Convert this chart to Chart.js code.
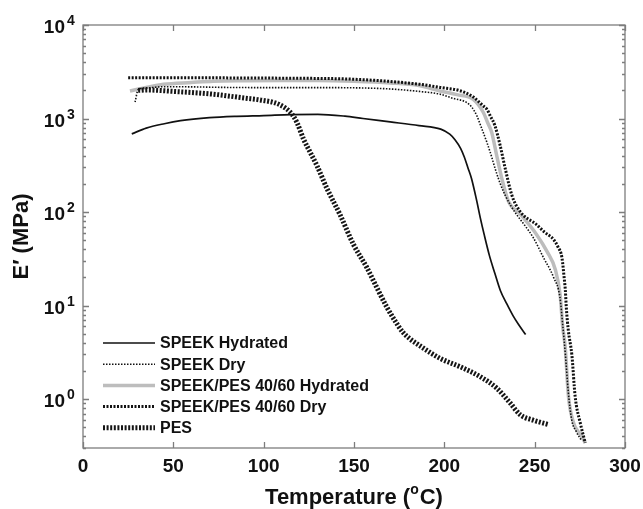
<!DOCTYPE html>
<html>
<head>
<meta charset="utf-8">
<title>Storage modulus vs temperature</title>
<script src="https://cdn.jsdelivr.net/npm/chart.js@4.4.1/dist/chart.umd.min.js"></script>
<style>
  html,body{margin:0;padding:0;background:#fff;}
  #wrap{width:643px;height:509px;}
</style>
</head>
<body>
<div id="wrap"><canvas id="dma" width="643" height="509"></canvas></div>
<script>
/* ---------- DATA (temperature °C / E' MPa) ---------- */
const speekHydT = [27, 35, 45, 54, 70, 85, 100, 115, 130, 145, 155, 170, 186, 198, 203, 206, 209, 211, 213, 215, 218, 220, 222, 225, 228, 231, 234.6, 238, 241, 245];
const speekHydE = [685, 790, 880, 948, 1020, 1055, 1075, 1100, 1110, 1060, 1000, 920, 840, 770, 680, 590, 480, 390, 300, 230, 130, 85, 58, 34, 22, 14.5, 10.4, 7.8, 6.3, 4.9];

const speekDryT = [28.8, 30.6, 36, 44.5, 60, 80, 109, 130, 150, 170, 186, 197.7, 205, 212.5, 215.5, 218, 220.5, 223.5, 226, 228.1, 231, 233.7, 237, 240.1, 245, 249.3, 254.9, 260.5, 264, 265.6, 267, 268.6, 270.5, 273, 276];
const speekDryE = [1500, 2050, 2130, 2190, 2180, 2150, 2140, 2140, 2130, 2070, 1950, 1820, 1640, 1480, 1300, 1070, 800, 560, 400, 292, 200, 151, 115, 93.5, 70, 53, 32.5, 20, 12.2, 6, 3, 1.2, 0.6, 0.45, 0.36];

const blendHydT = [26, 35, 44.5, 60, 72, 90, 110, 130, 150, 170, 186, 197.7, 207, 216, 221.6, 224, 226.2, 229, 231.8, 235.5, 242, 251.2, 256.8, 261.5, 264.1, 265.5, 266.9, 268.7, 271.5, 274, 276, 278];
const blendHydE = [1970, 2150, 2320, 2430, 2510, 2540, 2550, 2550, 2500, 2400, 2250, 1970, 1800, 1600, 1160, 900, 714, 400, 229, 130, 95, 57, 38, 24, 13, 6, 3.6, 1.07, 0.56, 0.45, 0.4, 0.34];

const blendDryT = [25, 50, 80, 110, 150, 186.6, 197.7, 208.7, 216, 221.5, 223.5, 225.4, 228, 230.9, 233.7, 237.4, 242, 251.2, 255, 260.5, 263, 265.1, 266.3, 267, 267.5, 268.6, 270.6, 272.4, 275.2, 278];
const blendDryE = [2735, 2735, 2720, 2700, 2630, 2320, 2150, 1980, 1700, 1365, 1260, 1070, 840, 515, 292, 151, 101, 73, 62, 50.7, 42, 32.5, 20, 14.4, 9.6, 5.5, 2.95, 1.07, 0.56, 0.34];

const pesT = [30.5, 35, 50, 72, 90, 98, 109, 115.6, 118.5, 122, 125.7, 129.4, 135, 142.3, 149.7, 157.1, 162.6, 168.2, 173.7, 177, 181, 186.6, 197.7, 208.7, 219.8, 229, 236.4, 242, 249.3, 257.6];
const pesE = [2000, 2020, 1950, 1820, 1650, 1580, 1400, 1117, 900, 607, 437, 316, 179, 93.5, 45, 25.5, 15.6, 9.6, 6.4, 5.2, 4.4, 3.7, 2.72, 2.22, 1.74, 1.31, 0.91, 0.68, 0.594, 0.535];

const seriesNames = ['SPEEK Hydrated', 'SPEEK Dry', 'SPEEK/PES 40/60 Hydrated', 'SPEEK/PES 40/60 Dry', 'PES'];
const xTicks = [0, 50, 100, 150, 200, 250, 300];
const yDecades = [0, 1, 2, 3, 4];

/* ---------- STYLE ---------- */
const FONT = '"Liberation Sans", Arial, Helvetica, sans-serif';
const AXIS = '#7d7d7d';
const INK = '#111';

const pts = (xs, ys) => xs.map((x, i) => ({x, y: ys[i]}));

// order: lower draws on top, so the grey blend curve stays underneath
const line = (label, xs, ys, color, width, dash, order) => ({
  label, data: pts(xs, ys), borderColor: color, borderWidth: width, borderDash: dash,
  order, pointRadius: 0, fill: false, cubicInterpolationMode: 'monotone'
});

const datasets = [
  line(seriesNames[0], speekHydT, speekHydE, '#111', 1.7, [], 1),
  line(seriesNames[1], speekDryT, speekDryE, '#111', 1.6, [1.5, 1.5], 2),
  line(seriesNames[2], blendHydT, blendHydE, '#bdbdbd', 3.5, [], 5),
  line(seriesNames[3], blendDryT, blendDryE, '#111', 3, [2, 1.5], 3),
  line(seriesNames[4], pesT, pesE, '#151515', 5, [2, 1.6], 4)
];

/* ---------- AXES, FRAME, LEGEND ---------- */
const decor = {
  id: 'decor',
  afterDatasetsDraw(chart) {
    const {ctx, chartArea: a, scales: {x, y}} = chart;
    ctx.save();

    // frame + inward ticks on all four sides
    ctx.strokeStyle = AXIS; ctx.lineWidth = 1.3;
    ctx.strokeRect(a.left, a.top, a.right - a.left, a.bottom - a.top);
    ctx.beginPath();
    xTicks.forEach(v => {
      const px = Math.round(x.getPixelForValue(v)) + 0.5;
      ctx.moveTo(px, a.bottom); ctx.lineTo(px, a.bottom - 6);
      ctx.moveTo(px, a.top); ctx.lineTo(px, a.top + 6);
    });
    for (let d = -1; d <= 4; d++) for (let m = 1; m < 10; m++) {
      const v = m * Math.pow(10, d);
      if (v < y.min || v > y.max) continue;
      const py = Math.round(y.getPixelForValue(v)) + 0.5, len = m === 1 ? 6 : 3;
      ctx.moveTo(a.left, py); ctx.lineTo(a.left + len, py);
      ctx.moveTo(a.right, py); ctx.lineTo(a.right - len, py);
    }
    ctx.stroke();

    // tick labels
    ctx.fillStyle = INK;
    ctx.font = `bold 19px ${FONT}`;
    ctx.textAlign = 'center'; ctx.textBaseline = 'alphabetic';
    xTicks.forEach(v => ctx.fillText(String(v), x.getPixelForValue(v), a.bottom + 24));

    yDecades.forEach(d => {
      const py = y.getPixelForValue(Math.pow(10, d));
      ctx.font = `bold 19px ${FONT}`; ctx.textAlign = 'right';
      ctx.fillText('10', a.left - 18, py + 8);
      ctx.font = `bold 14px ${FONT}`; ctx.textAlign = 'left';
      ctx.fillText(String(d), a.left - 16, py);
    });

    // x title with raised degree mark
    const xt = ['Temperature (', 'o', 'C)'];
    ctx.font = `bold 22px ${FONT}`;
    const w0 = ctx.measureText(xt[0]).width, w2 = ctx.measureText(xt[2]).width;
    ctx.font = `bold 14px ${FONT}`;
    const w1 = ctx.measureText(xt[1]).width + 1;
    let tx = (a.left + a.right) / 2 - (w0 + w1 + w2) / 2;
    const ty = 504;
    ctx.textAlign = 'left';
    ctx.font = `bold 22px ${FONT}`; ctx.fillText(xt[0], tx, ty); tx += w0;
    ctx.font = `bold 14px ${FONT}`; ctx.fillText(xt[1], tx, ty - 10); tx += w1;
    ctx.font = `bold 22px ${FONT}`; ctx.fillText(xt[2], tx, ty);

    // y title
    ctx.save();
    ctx.translate(28, (a.top + a.bottom) / 2);
    ctx.rotate(-Math.PI / 2);
    ctx.textAlign = 'center';
    ctx.font = `bold 22px ${FONT}`;
    ctx.fillText('E\u2032 (MPa)', 0, 0);
    ctx.restore();

    // legend, styled from the datasets themselves
    const lx0 = 103, lx1 = 155, ly0 = 343, step = 21.2;
    const byLabel = Object.fromEntries(chart.data.datasets.map(ds => [ds.label, ds]));
    seriesNames.forEach((name, i) => {
      const ds = byLabel[name], ly = ly0 + i * step;
      ctx.save();
      ctx.strokeStyle = ds.borderColor; ctx.lineWidth = ds.borderWidth;
      ctx.setLineDash(ds.borderDash);
      ctx.beginPath(); ctx.moveTo(lx0, ly); ctx.lineTo(lx1, ly); ctx.stroke();
      ctx.restore();
      ctx.fillStyle = INK; ctx.font = `bold 16px ${FONT}`;
      ctx.textAlign = 'left'; ctx.textBaseline = 'middle';
      ctx.fillText(name, 160, ly + 1);
    });

    ctx.restore();
  }
};

/* ---------- CHART ---------- */
new Chart(document.getElementById('dma').getContext('2d'), {
  type: 'line',
  data: {datasets},
  options: {
    responsive: false,
    animation: false,
    devicePixelRatio: 1,
    layout: {padding: {left: 83, top: 25, right: 18, bottom: 61}},
    plugins: {legend: {display: false}, tooltip: {enabled: false}},
    scales: {
      x: {type: 'linear', min: 0, max: 300, display: false},
      y: {type: 'logarithmic', min: 0.33, max: 10000, display: false}
    }
  },
  plugins: [decor]
});
</script>
</body>
</html>
